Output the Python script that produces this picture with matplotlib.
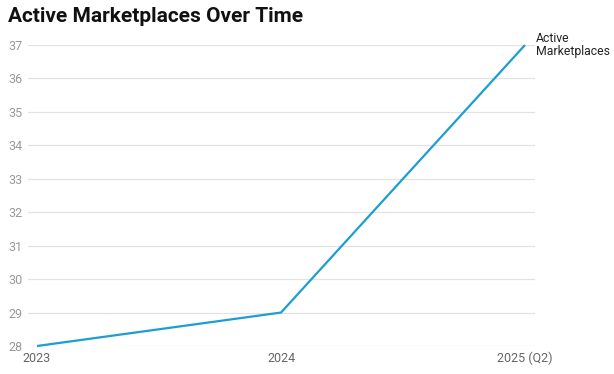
import matplotlib.pyplot as plt

periods = ["2023", "2024", "2025 (Q2)"]
marketplaces = [28, 29, 37]
series_name = "Active\nMarketplaces"

plt.rcParams["font.family"] = ["Roboto", "DejaVu Sans"]

fig = plt.figure(figsize=(6.14, 3.74), dpi=100)
ax = fig.add_axes([28 / 614, 28 / 374, (535 - 28) / 614, (346 - 45) / 374])

x = list(range(len(periods)))
ax.plot(x, marketplaces, color="#1c9fd0", linewidth=1.6, solid_capstyle="butt", zorder=3)

ax.set_xlim(-9 / 244, 498 / 244)
ax.set_ylim(28, 37)
ax.set_yticks(range(28, 38))
ax.set_xticks(x)
ax.set_xticklabels(periods)
for line in ax.get_lines():
    line.set_clip_on(False)

ax.grid(axis="y", color="#e3e3e3", linewidth=0.9)
ax.set_axisbelow(True)
for s in ax.spines.values():
    s.set_visible(False)
ax.tick_params(axis="both", length=0, labelsize=9)
ax.tick_params(axis="y", colors="#999999", pad=0)
ax.tick_params(axis="x", colors="#666666", pad=4)
for lbl in ax.get_yticklabels():
    lbl.set_horizontalalignment("left")
    lbl.set_x(-20 / 507)

# endpoint label
ax.annotate(series_name, xy=(x[-1], marketplaces[-1]), xytext=(8, 0),
            textcoords="offset points", ha="left", va="center",
            fontsize=8.8, color="#222222", linespacing=1.0)

fig.text(8 / 614, 1 - 17 / 374, "Active Marketplaces Over Time", fontsize=15,
         fontweight="bold", ha="left", va="center", color="#111111")

fig.savefig("out.png", dpi=100)
